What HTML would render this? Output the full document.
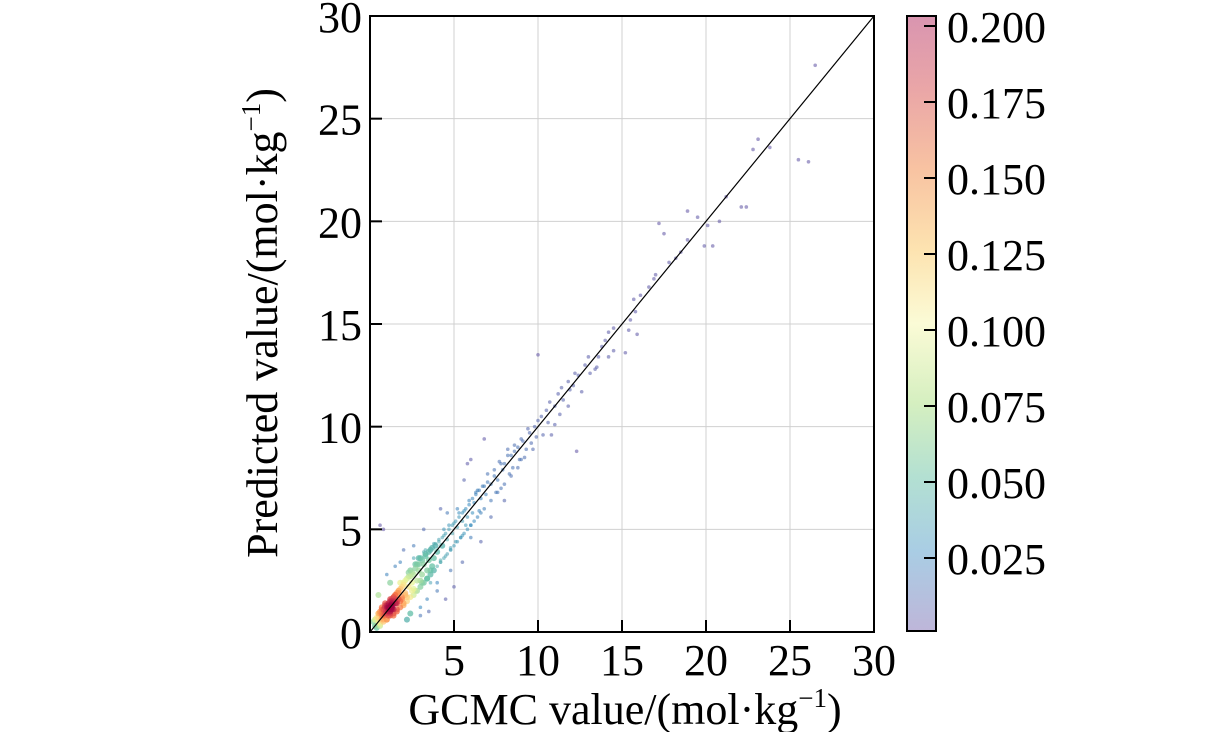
<!DOCTYPE html>
<html><head><meta charset="utf-8"><style>
html,body{margin:0;padding:0;background:#fff;}
svg{display:block;font-family:"Liberation Serif",serif;}
</style></head><body>
<svg id="chart" width="1211" height="732" viewBox="0 0 1211 732">
<defs>
<linearGradient id="cbg" x1="0" y1="1" x2="0" y2="0">
<stop offset="0" stop-color="#beb6d9"/>
<stop offset="0.13" stop-color="#a9cde4"/>
<stop offset="0.25" stop-color="#b3e0d2"/>
<stop offset="0.37" stop-color="#d5efc0"/>
<stop offset="0.5" stop-color="#fbfbd6"/>
<stop offset="0.62" stop-color="#fde3b0"/>
<stop offset="0.75" stop-color="#f8c3a2"/>
<stop offset="0.88" stop-color="#eaa6a7"/>
<stop offset="1" stop-color="#d995b0"/>
</linearGradient>
<clipPath id="pc"><rect x="370" y="16" width="504" height="616"/></clipPath>
</defs>
<g id="grid"></g>
<g id="pts" clip-path="url(#pc)"></g>
<line id="diag" stroke="#000" stroke-width="1.2"/>
<rect x="370" y="16" width="504" height="616" fill="none" stroke="#000" stroke-width="2"/>
<g id="ticks"></g>
<text x="625" y="724" font-size="44" text-anchor="middle">GCMC value/(mol·kg<tspan dy="-17" font-size="27">−1</tspan><tspan dy="17">)</tspan></text>
<text transform="translate(277,323) rotate(-90)" font-size="44" text-anchor="middle">Predicted value/(mol·kg<tspan dy="-17" font-size="27">−1</tspan><tspan dy="17">)</tspan></text>
<rect x="907" y="16" width="29" height="615" fill="url(#cbg)" stroke="#000" stroke-width="2"/>
<g id="cbticks"></g>
</svg>
<script>
const xTicks=[5,10,15,20,25,30];
const yTicks=[0,5,10,15,20,25,30];
const cbTicks=[0.025,0.05,0.075,0.1,0.125,0.15,0.175,0.2];
const cbLabels=["0.025","0.050","0.075","0.100","0.125","0.150","0.175","0.200"];
const gcmc=[26.5,25.5,26.1,23.1,22.8,23.8,22.1,22.4,21.2,20.8,20.1,19.9,20.4,18.9,19.5,17.2,17.5,18.2,18.5,18.9,17.8,17.0,16.9,16.6,16.1,15.7,15.8,15.5,15.4,15.9,15.2,14.5,14.2,14.0,13.8,14.5,13.6,13.4,14.2,13.1,12.8,12.4,12.1,11.9,11.8,11.5,11.2,11.0,11.3,12.3,10.5,10.6,10.2,10.0,9.8,9.9,9.5,9.6,9.3,9.1,8.8,8.9,8.6,8.4,8.2,8.0,8.3,7.9,7.7,7.6,7.4,7.2,7.5,7.0,6.9,6.8,6.6,6.4,6.5,6.2,6.1,5.9,5.8,5.6,5.7,5.5,5.3,5.2,5.4,5.0,4.9,5.1,4.7,4.6,4.8,4.4,4.3,4.5,4.1,4.0,4.2,3.9,3.8,3.6,3.7,3.5,3.3,3.4,3.2,3.0,3.1,2.9,2.7,2.8,2.6,2.5,2.4,2.3,2.2,2.1,2.0,1.9,1.8,1.7,1.6,1.5,1.4,1.3,1.2,1.1,1.0,0.9,0.8,0.7,0.6,0.5,0.4,0.3,0.2,0.6,0.8,3.5,5.0,3.0,4.0,2.0,1.5,6.8,5.8,9.0,10.8,8.5,7.8,6.0,4.6,3.6,2.6,
1.0,1.1,1.2,1.3,1.4,1.5,0.9,0.8,0.7,1.6,1.7,1.8,0.5,0.6,1.0,1.2,1.4,0.8,1.9,2.0,2.2,2.4,0.4,0.3,1.1,1.3,1.5,1.7,0.9,0.6,2.1,2.3,2.6,2.8,3.0,3.2,1.0,1.2,0.7,0.5,1.6,1.8,2.0,2.5,3.4,3.8,4.2,4.4,4.8,5.2,5.5,6.0,6.3,2.7,2.9,3.1,3.3,3.6,1.4,0.9,
1.05,1.15,1.25,0.95,0.85,1.35,1.45,1.1,1.2,1.0,0.75,1.3,1.55,0.65,1.15,1.05,0.9,1.25,1.6,0.8,
0.3,0.4,0.5,0.6,0.7,0.8,0.9,1.0,1.1,1.2,1.3,1.4,1.5,1.6,1.7,1.8,1.9,2.0,2.1,2.2,2.3,2.4,2.5,2.6,2.7,2.8,2.9,3.0,3.1,3.2,3.3,3.4,3.5,3.6,3.7,3.8,3.9,4.0,4.1,4.2,4.3,4.4,4.5,4.6,4.7,4.8,4.9,5.0,5.1,5.2,5.3,5.4,5.5,5.6,5.7,5.8,5.9,6.0,6.1,6.2,6.3,6.4,6.5,6.6,6.7,6.8,7.0,7.2,7.4,7.6,7.8,8.0,8.2,8.4,8.6,8.8,9.0,9.2,9.4,9.7,10.0,10.3,10.7,11.0,11.4,11.8,12.2,12.6,13.0,13.5,1.2,2.4,3.4,1.8,2.6,4.0,3.2,4.8,5.5,4.2,6.6,5.6,7.2,2.2,0.5,1.0,3.0,6.0,8.0,4.5];
const pred=[27.6,23.0,22.9,24.0,23.5,23.6,20.7,20.7,21.2,20.0,19.8,18.8,18.8,20.5,20.2,19.9,19.4,18.2,18.5,19.1,18.0,17.4,17.2,16.8,16.4,16.2,15.6,15.2,14.7,14.5,13.6,14.8,14.6,14.2,13.9,13.7,13.4,12.8,13.4,12.6,13.0,12.5,12.0,11.8,12.2,11.3,11.6,11.0,10.6,8.8,10.8,10.2,10.5,13.5,10.0,9.5,9.7,9.2,8.9,9.3,9.0,8.4,8.8,8.6,8.9,8.2,7.7,7.9,8.3,7.4,7.6,7.2,6.8,7.7,6.7,7.1,6.5,6.9,5.9,6.3,5.8,6.4,5.6,5.9,5.2,5.4,5.8,5.1,4.6,5.3,4.8,4.4,5.2,4.5,4.1,4.7,4.2,3.7,4.5,3.9,3.5,4.2,3.6,4.0,3.2,3.5,3.8,3.0,3.3,3.6,2.8,3.0,3.3,2.5,2.8,2.4,3.0,2.2,2.6,1.9,2.3,1.7,2.1,1.6,1.9,1.4,1.7,1.2,1.5,1.0,1.3,0.9,1.1,0.7,0.9,0.5,0.7,0.3,0.5,5.2,5.0,1.0,2.2,1.2,2.0,4.0,3.2,9.4,8.2,8.4,9.6,8.0,7.0,4.6,5.8,2.4,3.6,
0.9,1.3,1.0,1.5,1.1,1.6,1.2,0.6,0.9,1.4,1.9,1.5,0.7,0.4,1.2,0.9,1.7,1.1,1.6,2.4,1.7,2.7,0.3,0.6,0.8,1.1,1.8,2.0,1.3,1.0,1.8,2.9,2.1,3.3,2.5,3.9,0.6,1.6,1.2,0.9,1.0,2.4,1.4,2.0,2.6,4.3,3.4,5.0,4.0,6.0,4.7,5.2,6.8,2.0,3.6,2.4,4.0,3.0,0.8,1.4,
1.0,1.2,1.1,1.0,0.8,1.3,1.5,1.2,1.0,0.9,0.8,1.4,1.4,0.6,1.1,1.2,0.9,1.3,1.5,0.9,
0.6,0.2,0.9,0.3,1.1,0.5,1.2,0.6,1.4,0.8,1.6,0.9,1.8,1.1,2.0,1.2,2.2,1.3,2.5,1.5,2.7,1.7,2.9,1.8,3.1,2.0,3.3,2.2,3.5,2.4,3.7,2.6,3.9,2.8,4.1,3.0,4.3,3.2,4.4,3.4,4.6,3.6,4.8,3.8,5.0,4.0,5.2,4.2,5.4,4.4,5.6,4.6,5.8,4.8,6.0,5.0,6.2,5.2,6.5,5.4,6.7,5.6,6.9,5.8,7.1,6.0,7.3,6.4,7.9,6.8,8.2,7.2,8.6,7.6,9.1,8.0,9.4,8.5,9.9,8.9,10.3,9.6,11.2,10.1,11.9,11.0,12.6,11.7,13.4,12.9,2.4,0.9,1.6,3.4,4.2,2.4,5.0,3.0,3.4,6.0,4.4,7.4,5.6,0.6,1.8,2.8,0.8,8.4,6.4,1.6];
const NS="http://www.w3.org/2000/svg";
const X0=370,X1=874,Y0=632,Y1=16;
function sx(v){return X0+(X1-X0)*v/30;}
function sy(v){return Y0-(Y0-Y1)*v/30;}
function cy(v){return 634-v/0.025*76;}
function mk(tag,at,parent){const e=document.createElementNS(NS,tag);for(const k in at)e.setAttribute(k,at[k]);parent.appendChild(e);return e;}
const grid=document.getElementById('grid'),ticks=document.getElementById('ticks');
const svg=document.getElementById('chart');
xTicks.forEach(v=>{
  if(v<30){const g=mk('line',{x1:sx(v),x2:sx(v),y1:Y1,y2:Y0,stroke:'#d0d0d0','stroke-width':1},grid);
  
  }
  const t=mk('line',{x1:sx(v),x2:sx(v),y1:Y0,y2:Y0-12,stroke:'#000','stroke-width':2},ticks);
  
  
  const l=mk('text',{x:sx(v),y:675,'font-size':44,'text-anchor':'middle'},ticks);l.textContent=v;
  
  
});
yTicks.forEach(v=>{
  if(v>0&&v<30){const g=mk('line',{x1:X0,x2:X1,y1:sy(v),y2:sy(v),stroke:'#d0d0d0','stroke-width':1},grid);
  
  }
  const t=mk('line',{x1:X0,x2:X0+12,y1:sy(v),y2:sy(v),stroke:'#000','stroke-width':2},ticks);
  
  
  const l=mk('text',{x:362,y:sy(v)+16,'font-size':44,'text-anchor':'end'},ticks);l.textContent=v;
  
  
});
const d=document.getElementById('diag');
d.setAttribute('x1',sx(0));d.setAttribute('y1',sy(0));d.setAttribute('x2',sx(30));d.setAttribute('y2',sy(30));
const cbg=document.getElementById('cbticks');
cbTicks.forEach((v,i)=>{
  const t=mk('line',{x1:924,x2:936,y1:cy(v),y2:cy(v),stroke:'#000','stroke-width':2},cbg);
  
  
  const l=mk('text',{x:947,y:cy(v)+16,'font-size':44},cbg);l.textContent=cbLabels[i];
  
  
});
const n=gcmc.length;const dens=[];let mx=0;
for(let i=0;i<n;i++){let s=0;for(let j=0;j<n;j++){const dx=(gcmc[i]-gcmc[j])/0.8,dy=(pred[i]-pred[j])/0.8;s+=Math.exp(-(dx*dx+dy*dy)/2);}dens.push(s);if(s>mx)mx=s;}
const stops=[[0,[94,79,162]],[0.2,[50,136,189]],[0.35,[102,194,165]],[0.5,[230,245,152]],[0.6,[254,224,139]],[0.72,[253,174,97]],[0.84,[244,109,67]],[0.93,[213,62,79]],[1,[158,1,66]]];
function cmap(t){for(let k=1;k<stops.length;k++){if(t<=stops[k][0]){const a=stops[k-1],b=stops[k],f=(t-a[0])/(b[0]-a[0]);return 'rgb('+a[1].map((c,m)=>Math.round(c+(b[1][m]-c)*f)).join(',')+')';}}return 'rgb(158,1,66)';}
const idx=[...Array(n).keys()].sort((a,b)=>dens[a]-dens[b]);
const pg=document.getElementById('pts');
idx.forEach(i=>{
  const t=Math.pow(dens[i]/mx,1.4);
  const c=mk('circle',{cx:sx(gcmc[i]),cy:sy(pred[i]),r:t>0.3?3:1.8,fill:cmap(t),'fill-opacity':t>0.3?0.75:0.55},pg);
  
  
});
svg.appendChild(d);
</script>
</body></html>
